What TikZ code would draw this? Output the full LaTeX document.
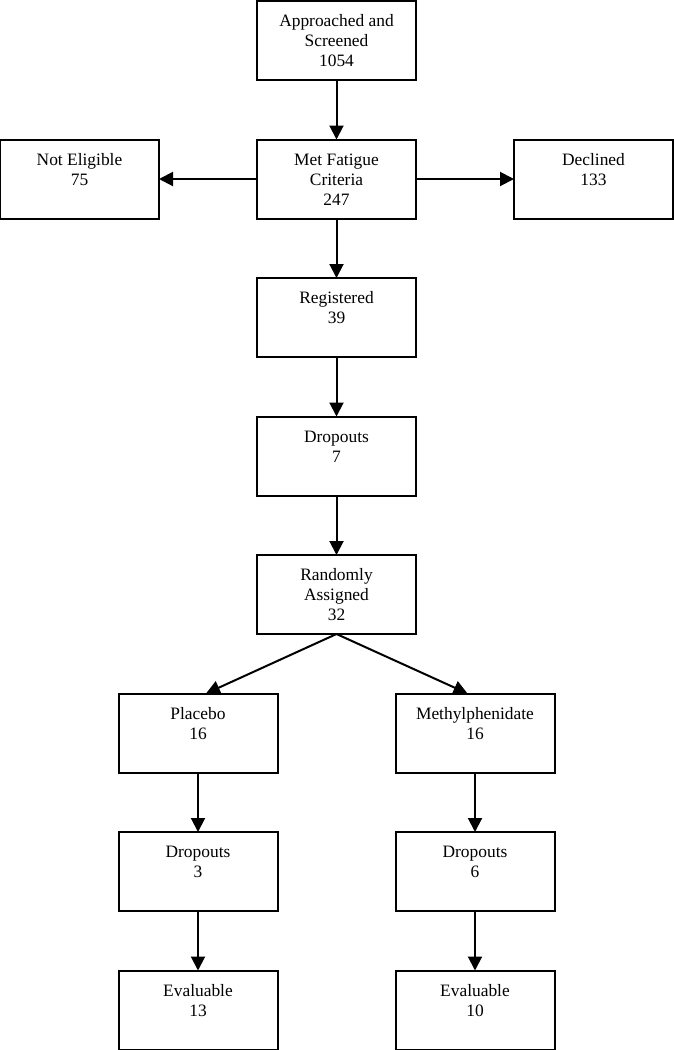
\documentclass[tikz,border=0pt]{standalone}
\usepackage{fontspec}
\setmainfont{Liberation Serif}
\usetikzlibrary{%
    arrows.meta,
    calc,
    positioning
}
\tikzset{flowarrow/.style = {-{Triangle[length=7pt,width=7pt]}}}
\newcommand{\flowtext}[1]{\begin{tabular}[t]{@{}c@{}}#1\end{tabular}}

\begin{document}
\begin{tikzpicture}[
    x=0.5pt, y=-0.5pt,
    line width=1pt,
    node distance=29.75pt and 49pt,
    box/.style = {draw, rectangle, outer sep=0pt,
        inner xsep=0pt, inner ysep=0pt, minimum width=79.5pt,
        text height=12.75pt, text depth=26.75pt,
        font=\fontsize{8.7pt}{10pt}\selectfont}]
    \useasboundingbox (0,0) rectangle (674,1050);

    \node[box] (screened) at (336.5,40.5) {\flowtext{Approached and\\Screened\\1054}};
    \node[box] (fatigue) [below=of screened] {\flowtext{Met Fatigue\\Criteria\\247}};
    \node[box] (noteligible) [left=of fatigue] {\flowtext{Not Eligible\\75}};
    \node[box] (declined) [right=of fatigue] {\flowtext{Declined\\133}};
    \node[box] (registered) [below=of fatigue] {\flowtext{Registered\\39}};
    \node[box] (dropouts) [below=of registered] {\flowtext{Dropouts\\7}};
    \node[box] (assigned) [below=of dropouts] {\flowtext{Randomly\\Assigned\\32}};

    % treatment arms
    \node[box] (placebo) [below=of assigned, xshift=-69.25pt] {\flowtext{Placebo\\16}};
    \node[box] (methyl) [below=of assigned, xshift=69.25pt] {\flowtext{Methylphenidate\\16}};
    \node[box] (dropplacebo) [below=of placebo] {\flowtext{Dropouts\\3}};
    \node[box] (dropmethyl) [below=of methyl] {\flowtext{Dropouts\\6}};
    \node[box] (evalplacebo) [below=of dropplacebo] {\flowtext{Evaluable\\13}};
    \node[box] (evalmethyl) [below=of dropmethyl] {\flowtext{Evaluable\\10}};

    \draw[flowarrow] (screened) to (fatigue);
    \draw[flowarrow] (fatigue) to (noteligible);
    \draw[flowarrow] (fatigue) to (declined);
    \draw[flowarrow] (fatigue) to (registered);
    \draw[flowarrow] (registered) to (dropouts);
    \draw[flowarrow] (dropouts) to (assigned);
    \draw[flowarrow] (assigned.south) to ($(placebo.north) + (4pt,0)$);
    \draw[flowarrow] (assigned.south) to ($(methyl.north) + (-3.75pt,0)$);
    \draw[flowarrow] (placebo) to (dropplacebo);
    \draw[flowarrow] (methyl) to (dropmethyl);
    \draw[flowarrow] (dropplacebo) to (evalplacebo);
    \draw[flowarrow] (dropmethyl) to (evalmethyl);
\end{tikzpicture}
\end{document}
